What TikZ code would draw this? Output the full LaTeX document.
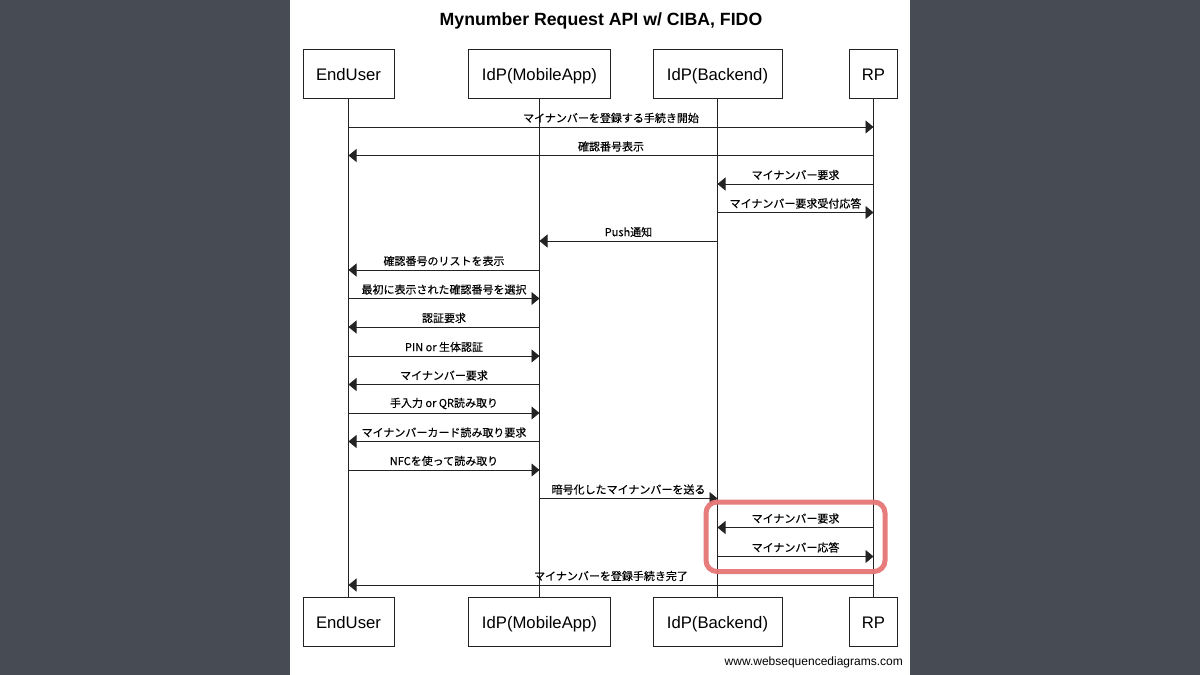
\documentclass[tikz,border=0pt]{standalone}
\usepackage{fontspec}
\setmainfont{Liberation Sans}
\newfontfamily\cjk[FakeBold=0.3]{Noto Sans CJK JP}
\usetikzlibrary{arrows.meta}
\definecolor{board}{RGB}{70,75,84}
\definecolor{chalkred}{RGB}{230,118,118}
\definecolor{lineclr}{RGB}{35,35,35}
\tikzset{
  party/.style={draw=lineclr,line width=0.9pt,fill=white,minimum height=49pt,inner sep=0pt,
    text height=16pt,text depth=2pt,font=\fontsize{16.7}{18}\selectfont},
  life/.style={draw=lineclr,line width=0.9pt},
  msgarrow/.style={draw=lineclr,line width=0.9pt,-{Triangle[length=8pt,width=13pt]}},
  lbl/.style={midway,anchor=south,inner sep=0pt,yshift=3.5pt,font=\cjk\fontsize{11}{12}\selectfont},
  hilite/.style={draw=chalkred,line width=5pt,rounded corners=11pt,opacity=0.95}
}
\begin{document}
\begin{tikzpicture}[x=1pt,y=-1pt]
\useasboundingbox (0,0) rectangle (1200,675);
\fill[board] (0,0) rectangle (1200,675);
\fill[white] (290,0) rectangle (910,675);
\node[font=\bfseries\fontsize{17.7}{20}\selectfont] (title) at (601,21) {Mynumber Request API w/ CIBA, FIDO};
% participants top
\node[party,minimum width=91pt] (eu) at (348.5,73.5) {EndUser};
\node[party,minimum width=142pt] (ma) at (539.5,73.5) {IdP(MobileApp)};
\node[party,minimum width=129pt] (be) at (717.5,73.5) {IdP(Backend)};
\node[party,minimum width=48pt] (rp) at (873.5,73.5) {RP};
% participants bottom
\node[party,minimum width=91pt] (eub) at (348.5,621.5) {EndUser};
\node[party,minimum width=142pt] (mab) at (539.5,621.5) {IdP(MobileApp)};
\node[party,minimum width=129pt] (beb) at (717.5,621.5) {IdP(Backend)};
\node[party,minimum width=48pt] (rpb) at (873.5,621.5) {RP};
% lifelines
\draw[life] (eu.south) -- (eub.north);
\draw[life] (ma.south) -- (mab.north);
\draw[life] (be.south) -- (beb.north);
\draw[life] (rp.south) -- (rpb.north);
% rows
\foreach \i/\y in {1/127,2/155.5,3/184,4/212.5,5/241,6/270,7/298.5,8/327,9/356,10/384.5,11/413,12/441.5,13/470,14/498.5,15/527.5,16/556.5,17/585}
  \coordinate (r\i) at (0,\y);
% messages
\draw[msgarrow] (eu |- r1) -- node[lbl]{マイナンバーを登録する手続き開始} (rp |- r1);
\draw[msgarrow] (rp |- r2) -- node[lbl]{確認番号表示} (eu |- r2);
\draw[msgarrow] (rp |- r3) -- node[lbl]{マイナンバー要求} (be |- r3);
\draw[msgarrow] (be |- r4) -- node[lbl]{マイナンバー要求受付応答} (rp |- r4);
\draw[msgarrow] (be |- r5) -- node[lbl]{Push通知} (ma |- r5);
\draw[msgarrow] (ma |- r6) -- node[lbl]{確認番号のリストを表示} (eu |- r6);
\draw[msgarrow] (eu |- r7) -- node[lbl]{最初に表示された確認番号を選択} (ma |- r7);
\draw[msgarrow] (ma |- r8) -- node[lbl]{認証要求} (eu |- r8);
\draw[msgarrow] (eu |- r9) -- node[lbl]{PIN or 生体認証} (ma |- r9);
\draw[msgarrow] (ma |- r10) -- node[lbl]{マイナンバー要求} (eu |- r10);
\draw[msgarrow] (eu |- r11) -- node[lbl]{手入力 or QR読み取り} (ma |- r11);
\draw[msgarrow] (ma |- r12) -- node[lbl]{マイナンバーカード読み取り要求} (eu |- r12);
\draw[msgarrow] (eu |- r13) -- node[lbl]{NFCを使って読み取り} (ma |- r13);
\draw[msgarrow] (ma |- r14) -- node[lbl]{暗号化したマイナンバーを送る} (be |- r14);
\draw[msgarrow] (rp |- r15) -- node[lbl]{マイナンバー要求} (be |- r15);
\draw[msgarrow] (be |- r16) -- node[lbl]{マイナンバー応答} (rp |- r16);
\draw[msgarrow] (rp |- r17) -- node[lbl]{マイナンバーを登録手続き完了} (eu |- r17);
% highlight
\draw[hilite] (706,502) rectangle (885,571.5);
% footer
\node[anchor=base east,font=\fontsize{12}{14}\selectfont,inner sep=0pt] (foot) at (903,665) {www.websequencediagrams.com};
\end{tikzpicture}
\end{document}
